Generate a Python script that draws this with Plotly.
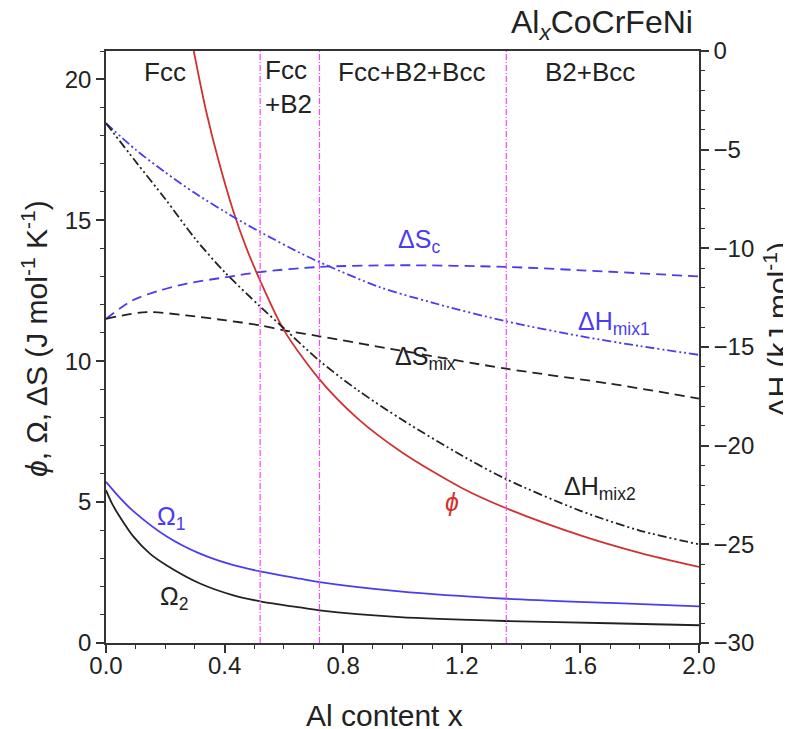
import plotly.graph_objects as go

# ---------------- data ----------------
x_phi = [0.296, 0.337, 0.38, 0.43, 0.474, 0.52, 0.6, 0.72, 0.85, 1.0, 1.2, 1.35, 1.6, 1.8, 2.0]
phi = [21.0, 18.9, 17.1, 15.3, 14.0, 12.85, 11.1, 9.35, 7.95, 6.75, 5.5, 4.78, 3.82, 3.2, 2.7]

x_hmix1 = [0, 0.1, 0.2, 0.3, 0.43, 0.52, 0.65, 0.72, 0.92, 1.1, 1.35, 1.6, 1.8, 2.0]
hmix1 = [-3.66, -5.0, -6.15, -7.2, -8.41, -9.17, -10.2, -10.7, -11.95, -12.75, -13.7, -14.45, -14.95, -15.4]

x_hmix2 = [0, 0.1, 0.2, 0.3, 0.4, 0.52, 0.6, 0.72, 0.85, 1.0, 1.2, 1.35, 1.6, 1.8, 2.0]
hmix2 = [-3.66, -5.6, -7.5, -9.5, -11.2, -12.95, -14.05, -15.7, -17.2, -18.7, -20.5, -21.7, -23.3, -24.3, -25.0]

x_sc = [0, 0.09, 0.18, 0.272, 0.407, 0.52, 0.72, 0.99, 1.35, 1.7, 2.0]
s_c = [11.5, 12.16, 12.5, 12.75, 12.98, 13.16, 13.34, 13.4, 13.34, 13.17, 13.0]

x_smix = [0, 0.137, 0.27, 0.4, 0.52, 0.597, 0.72, 0.99, 1.35, 1.7, 2.0]
s_mix = [11.5, 11.74, 11.62, 11.45, 11.27, 11.1, 10.88, 10.38, 9.73, 9.2, 8.67]

x_om1 = [0, 0.047, 0.092, 0.205, 0.317, 0.43, 0.52, 0.654, 0.72, 0.99, 1.35, 1.7, 2.0]
omega1 = [5.72, 5.15, 4.68, 3.78, 3.17, 2.76, 2.54, 2.28, 2.16, 1.83, 1.57, 1.42, 1.30]

x_om2 = [0, 0.02, 0.047, 0.092, 0.148, 0.205, 0.317, 0.43, 0.52, 0.654, 0.72, 0.99, 1.35, 1.7, 2.0]
omega2 = [5.42, 4.95, 4.47, 3.78, 3.17, 2.75, 2.11, 1.69, 1.48, 1.26, 1.16, 0.92, 0.78, 0.70, 0.63]

phase_bounds = [0.52, 0.72, 1.35]
phase_labels = ["Fcc", "Fcc<br>+B2", "Fcc+B2+Bcc", "B2+Bcc"]
phase_label_x = [0.2, 0.615, 1.03, 1.634]

x_ticks = [0.0, 0.4, 0.8, 1.2, 1.6, 2.0]

# ---------------- styles ----------------
BLUE = "#4a3df0"
RED = "#d03232"
BLACK = "#222222"
MAGENTA = "#ff40ff"
FONT = "Liberation Sans, Arial, sans-serif"
DDOT = "9px,3px,2px,3px,2px,3px"
DASH = "10px,6px"

fig = go.Figure()

def add(x, y, color, dash, axis="y", width=1.8):
    fig.add_trace(go.Scatter(x=x, y=y, mode="lines", yaxis=axis,
                             line=dict(color=color, width=width, dash=dash,
                                       shape="spline", smoothing=0.8),
                             showlegend=False, hoverinfo="skip"))

add(x_sc, s_c, BLUE, DASH)
add(x_smix, s_mix, BLACK, DASH)
add(x_om1, omega1, BLUE, "solid")
add(x_om2, omega2, BLACK, "solid")
add(x_phi, phi, RED, "solid")
add(x_hmix1, hmix1, BLUE, DDOT, axis="y2")
add(x_hmix2, hmix2, BLACK, DDOT, axis="y2")

# phase boundaries
for xb in phase_bounds:
    fig.add_shape(type="line", xref="x", yref="paper", x0=xb, x1=xb, y0=0, y1=1,
                  line=dict(color=MAGENTA, width=1.2, dash="6px,2px,1px,2px"))

# phase labels
for lab, xl in zip(phase_labels, phase_label_x):
    yy = 19.72 if "<br>" in lab else 20.24
    fig.add_annotation(x=xl, y=yy, xref="x", yref="y", text=lab, showarrow=False,
                       font=dict(size=26, color=BLACK, family=FONT), align="left",
                       xanchor="center", yanchor="middle")

# curve labels
curve_labels = [
    ("ΔS<sub>c</sub>", 1.055, 14.25, BLUE),
    ("ΔH<sub>mix1</sub>", 1.713, 11.35, BLUE),
    ("ΔS<sub>mix</sub>", 1.076, 10.1, BLACK),
    ("ΔH<sub>mix2</sub>", 1.666, 5.5, BLACK),
    ("<i>ϕ</i>", 1.167, 4.99, RED),
    ("Ω<sub>1</sub>", 0.219, 4.42, BLUE),
    ("Ω<sub>2</sub>", 0.229, 1.58, BLACK),
]
for t, xl, yl, c in curve_labels:
    fig.add_annotation(x=xl, y=yl, xref="x", yref="y", text=t, showarrow=False,
                       font=dict(size=25, color=c, family=FONT),
                       xanchor="center", yanchor="middle")

# title
fig.add_annotation(x=0.993, y=1.045, xref="paper", yref="paper",
                   text="Al<sub><i>x</i></sub>CoCrFeNi", showarrow=False,
                   font=dict(size=32, color=BLACK, family=FONT),
                   xanchor="right", yanchor="middle")

# axis titles
fig.add_annotation(x=0.469, y=-0.122, xref="paper", yref="paper",
                   text="Al content x", showarrow=False,
                   font=dict(size=30, color=BLACK, family=FONT),
                   xanchor="center", yanchor="middle")
fig.add_annotation(x=-0.12, y=0.515, xref="paper", yref="paper",
                   text="<i>ϕ</i>, Ω, ΔS (J mol<sup>-1</sup> K<sup>-1</sup>)", showarrow=False,
                   textangle=-90,
                   font=dict(size=30, color=BLACK, family=FONT),
                   xanchor="center", yanchor="middle")
fig.add_annotation(x=1.1316, y=0.528, xref="paper", yref="paper",
                   text="ΔH (kJ mol<sup>-1</sup>)", showarrow=False,
                   textangle=-90,
                   font=dict(size=30, color=BLACK, family=FONT),
                   xanchor="center", yanchor="middle")

axis_common = dict(showline=True, linecolor="#333", linewidth=1.5, ticks="outside",
                   ticklen=8, tickwidth=1.5, tickcolor="#333", showgrid=False, zeroline=False,
                   tickfont=dict(size=24, color=BLACK, family=FONT))
minor_common = dict(ticks="outside", ticklen=4, tickwidth=1.2, tickcolor="#333")

# the page body adds an 8px offset, so the figure is 8px smaller and margins shifted
fig.update_layout(
    width=783, height=721,
    margin=dict(l=98, r=92, t=43, b=86),
    paper_bgcolor="white", plot_bgcolor="white",
    xaxis=dict(range=[0, 2.0], tickvals=x_ticks, tickformat=".1f", mirror=True,
               ticklabelstandoff=-8,
               minor=dict(dtick=0.1, **minor_common), **axis_common),
    yaxis=dict(range=[0, 21], tickvals=[0, 5, 10, 15, 20],
               minor=dict(dtick=1, **minor_common), **axis_common),
    yaxis2=dict(range=[-30, 0], tickvals=[-30, -25, -20, -15, -10, -5, 0], overlaying="y",
                side="right", minor=dict(dtick=1, **minor_common), **axis_common),
)

fig.write_html("out.html")
